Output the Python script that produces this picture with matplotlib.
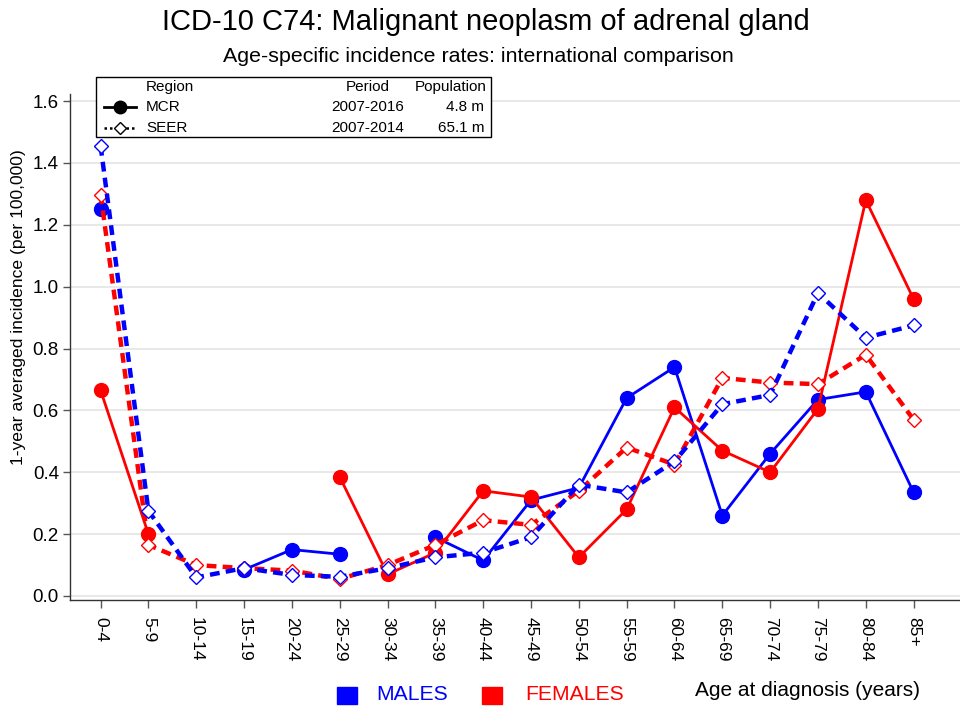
import matplotlib
matplotlib.use("Agg")
import matplotlib.pyplot as plt
import numpy as np
from matplotlib.lines import Line2D
from matplotlib.patches import Rectangle

plt.rcParams["font.family"] = ["Liberation Sans", "DejaVu Sans"]

# --- data ---
age_groups = ["0-4", "5-9", "10-14", "15-19", "20-24", "25-29", "30-34", "35-39",
              "40-44", "45-49", "50-54", "55-59", "60-64", "65-69", "70-74",
              "75-79", "80-84", "85+"]
nan = np.nan
mcr_males = [1.25, nan, nan, 0.085, 0.15, 0.135, nan, 0.19, 0.115, 0.31, 0.35,
             0.64, 0.74, 0.26, 0.46, 0.635, 0.66, 0.335]
mcr_females = [0.665, 0.20, nan, nan, nan, 0.385, 0.07, 0.14, 0.34, 0.32, 0.125,
               0.28, 0.61, 0.47, 0.40, 0.605, 1.28, 0.96]
seer_males = [1.455, 0.275, 0.06, 0.09, 0.068, 0.062, 0.09, 0.125, 0.14, 0.19,
              0.36, 0.335, 0.435, 0.62, 0.65, 0.98, 0.835, 0.875]
seer_females = [1.298, 0.165, 0.10, 0.09, 0.082, 0.055, 0.10, 0.165, 0.245, 0.23,
                0.34, 0.48, 0.425, 0.705, 0.69, 0.685, 0.78, 0.57]

y_ticks = [0.0, 0.2, 0.4, 0.6, 0.8, 1.0, 1.2, 1.4, 1.6]

legend_rows = [("MCR", "2007-2016", "4.8 m"), ("SEER", "2007-2014", "65.1 m")]

BLUE = "#0000ff"
RED = "#ff0000"

fig = plt.figure(figsize=(9.6, 7.11), dpi=100)
ax = fig.add_axes([70 / 960, 111 / 711, 890 / 960, 506 / 711])

x = np.arange(len(age_groups))

ax.plot(x, mcr_males, color=BLUE, lw=2.0, marker="o", ms=10, zorder=3)
ax.plot(x, mcr_females, color=RED, lw=2.0, marker="o", ms=10, zorder=3)
ax.plot(x, seer_females, color=RED, lw=3.2, ls=(0, (2.2, 1.4)), marker="D", ms=7,
        mfc="white", mec=RED, mew=1.0, zorder=4)
ax.plot(x, seer_males, color=BLUE, lw=3.2, ls=(0, (2.2, 1.4)), marker="D", ms=7,
        mfc="white", mec=BLUE, mew=1.0, zorder=4)

ax.set_xlim(-0.64, 17.97)
ax.set_ylim(-0.013, 1.623)
ax.set_yticks(y_ticks)
ax.set_yticklabels([f"{v:.1f}" for v in y_ticks], fontsize=13.5)
ax.set_xticks(x)
ax.set_xticklabels(age_groups, rotation=270, fontsize=12.5, va="top", ha="center")
ax.tick_params(axis="x", length=6, width=1.0, color="#555555", pad=6.5)
ax.tick_params(axis="y", length=5, width=1.0, color="#555555", pad=3)
ax.yaxis.grid(True, color="#e6e6e6", lw=1.3)
ax.set_axisbelow(True)
for side in ["top", "right"]:
    ax.spines[side].set_visible(False)
for side in ["left", "bottom"]:
    ax.spines[side].set_color("#333333")
    ax.spines[side].set_linewidth(1.0)

ax.set_ylabel("1-year averaged incidence (per 100,000)", fontsize=12.6)
ax.yaxis.set_label_coords(-44 / 890, (600 - 307) / 506)

fig.text(486 / 960, 1 - 22 / 711, "ICD-10 C74: Malignant neoplasm of adrenal gland",
         ha="center", va="center", fontsize=21)
fig.text(478 / 960, 1 - 56 / 711, "Age-specific incidence rates: international comparison",
         ha="center", va="center", fontsize=15.4)


# --- region legend box (figure pixels -> fractions) ---
def fx(px):
    return px / 960


def fy(py):
    return 1 - py / 711


box = Rectangle((fx(96), fy(137)), fx(491) - fx(96), fy(77) - fy(137),
                transform=fig.transFigure, fill=True, facecolor="white",
                edgecolor="black", lw=1.0, zorder=10)
fig.patches.append(box)
fig.text(fx(146), fy(87), "Region", fontsize=11, va="center", ha="left", zorder=11)
fig.text(fx(390), fy(87), "Period", fontsize=11, va="center", ha="right", zorder=11)
fig.text(fx(487), fy(87), "Population", fontsize=11, va="center", ha="right", zorder=11)
row_y = [107, 128]
row_styles = [dict(ls="-", lw=2.0, marker="o", ms=9, mfc="black"),
              dict(ls=(0, (1, 1.2)), lw=1.8, marker="D", ms=6, mfc="white")]
for (name, period, pop), py, st in zip(legend_rows, row_y, row_styles):
    fig.lines.append(Line2D([fx(104), fx(136)], [fy(py), fy(py)], color="black",
                            ls=st["ls"], lw=st["lw"], transform=fig.transFigure,
                            zorder=11))
    fig.lines.append(Line2D([fx(120)], [fy(py)], color="black", marker=st["marker"],
                            ms=st["ms"], mfc=st["mfc"], mec="black", mew=1.0, ls="none",
                            transform=fig.transFigure, zorder=12))
    fig.text(fx(146), fy(py), name, fontsize=11, va="center", ha="left", zorder=11)
    fig.text(fx(404), fy(py), period, fontsize=11, va="center", ha="right", zorder=11)
    fig.text(fx(484), fy(py), pop, fontsize=11, va="center", ha="right", zorder=11)

# --- sex legend at the bottom ---
for sq_x, txt_x, label, col in [(337, 376, "MALES", BLUE), (482, 525, "FEMALES", RED)]:
    fig.patches.append(Rectangle((fx(sq_x), fy(704)), fx(20), 17 / 711,
                                 transform=fig.transFigure, color=col))
    fig.text(fx(txt_x), fy(695), label, color=col, fontsize=15.2, va="center", ha="left")
fig.text(fx(920), fy(690), "Age at diagnosis (years)", fontsize=15, va="center", ha="right")

fig.savefig("out.png", dpi=100)
